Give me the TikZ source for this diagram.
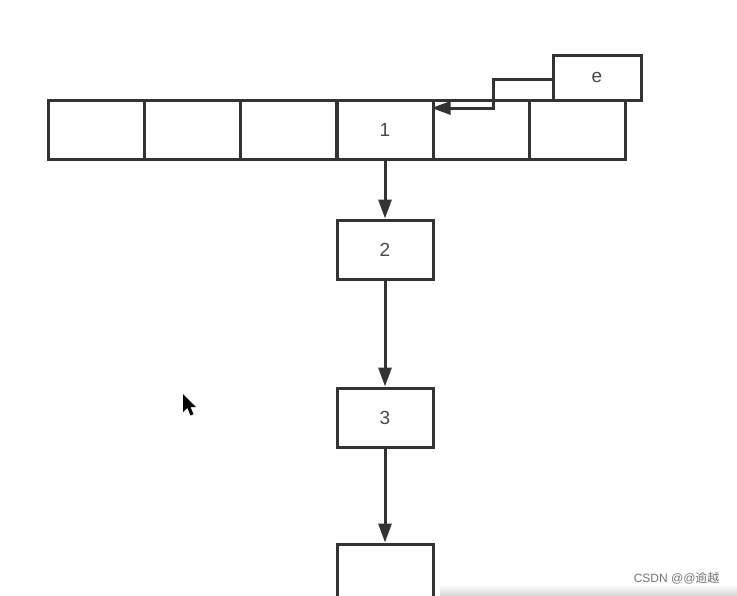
\documentclass[tikz,border=0pt]{standalone}
\usepackage{fontspec}
\setmainfont{Liberation Sans}
\newfontfamily\cjk{Noto Sans CJK SC}
\usetikzlibrary{arrows.meta}
\definecolor{ln}{HTML}{333333}
\tikzset{
  cell/.style={draw=ln, line width=3pt, minimum width=96pt, minimum height=59pt, inner sep=0pt, font=\fontsize{19}{22}\selectfont, text=ln!90},
  conn/.style={draw=ln, line width=3pt, -{Triangle[length=19pt,width=13pt]}},
}
\begin{document}
\begin{tikzpicture}[x=1pt,y=-1pt]
\useasboundingbox (0,0) rectangle (737,595);
\clip (0,0) rectangle (737,595);
% array row
\node[cell] (c0) at (96,129.5) {};
\node[cell] (c1) at (192,129.5) {};
\node[cell] (c2) at (288,129.5) {};
\node[cell] (c3) at (385,129.5) {1};
\node[cell] (c4) at (481,129.5) {};
\node[cell] (c5) at (577.5,129.5) {};
% e box
\node[cell, minimum width=88pt, minimum height=45pt] (e) at (597,77.5) {e};
% chain
\node[cell] (n2) at (385,249.5) {2};
\node[cell] (n3) at (385,417.5) {3};
\node[cell, minimum height=80pt] (n4) at (385,584) {};
% connectors
\coordinate (b1) at (493,79);
\coordinate (b2) at (493,108);
\draw[conn] (e.west |- b1) -- (b1) -- (b2) -- (c4.west |- b2);
\draw[conn] (c3.south) -- (n2.north);
\draw[conn] (n2.south) -- (n3.north);
\draw[conn] (n3.south) -- (n4.north);
% mouse cursor
\fill[black] (183,394) -- (183,412) -- (187.5,408) -- (190.5,415.5) -- (193.5,414.2) -- (190.5,407) -- (196,407) -- cycle;
% bottom fade
\shade[top color=white, bottom color=black!15, draw=none] (440,584) rectangle (737,595);
% watermark
\node[text=black!55, font=\fontsize{12}{14}\selectfont, anchor=east] (wm) at (723,578) {CSDN @@{\cjk 逾越}};
\end{tikzpicture}
\end{document}
